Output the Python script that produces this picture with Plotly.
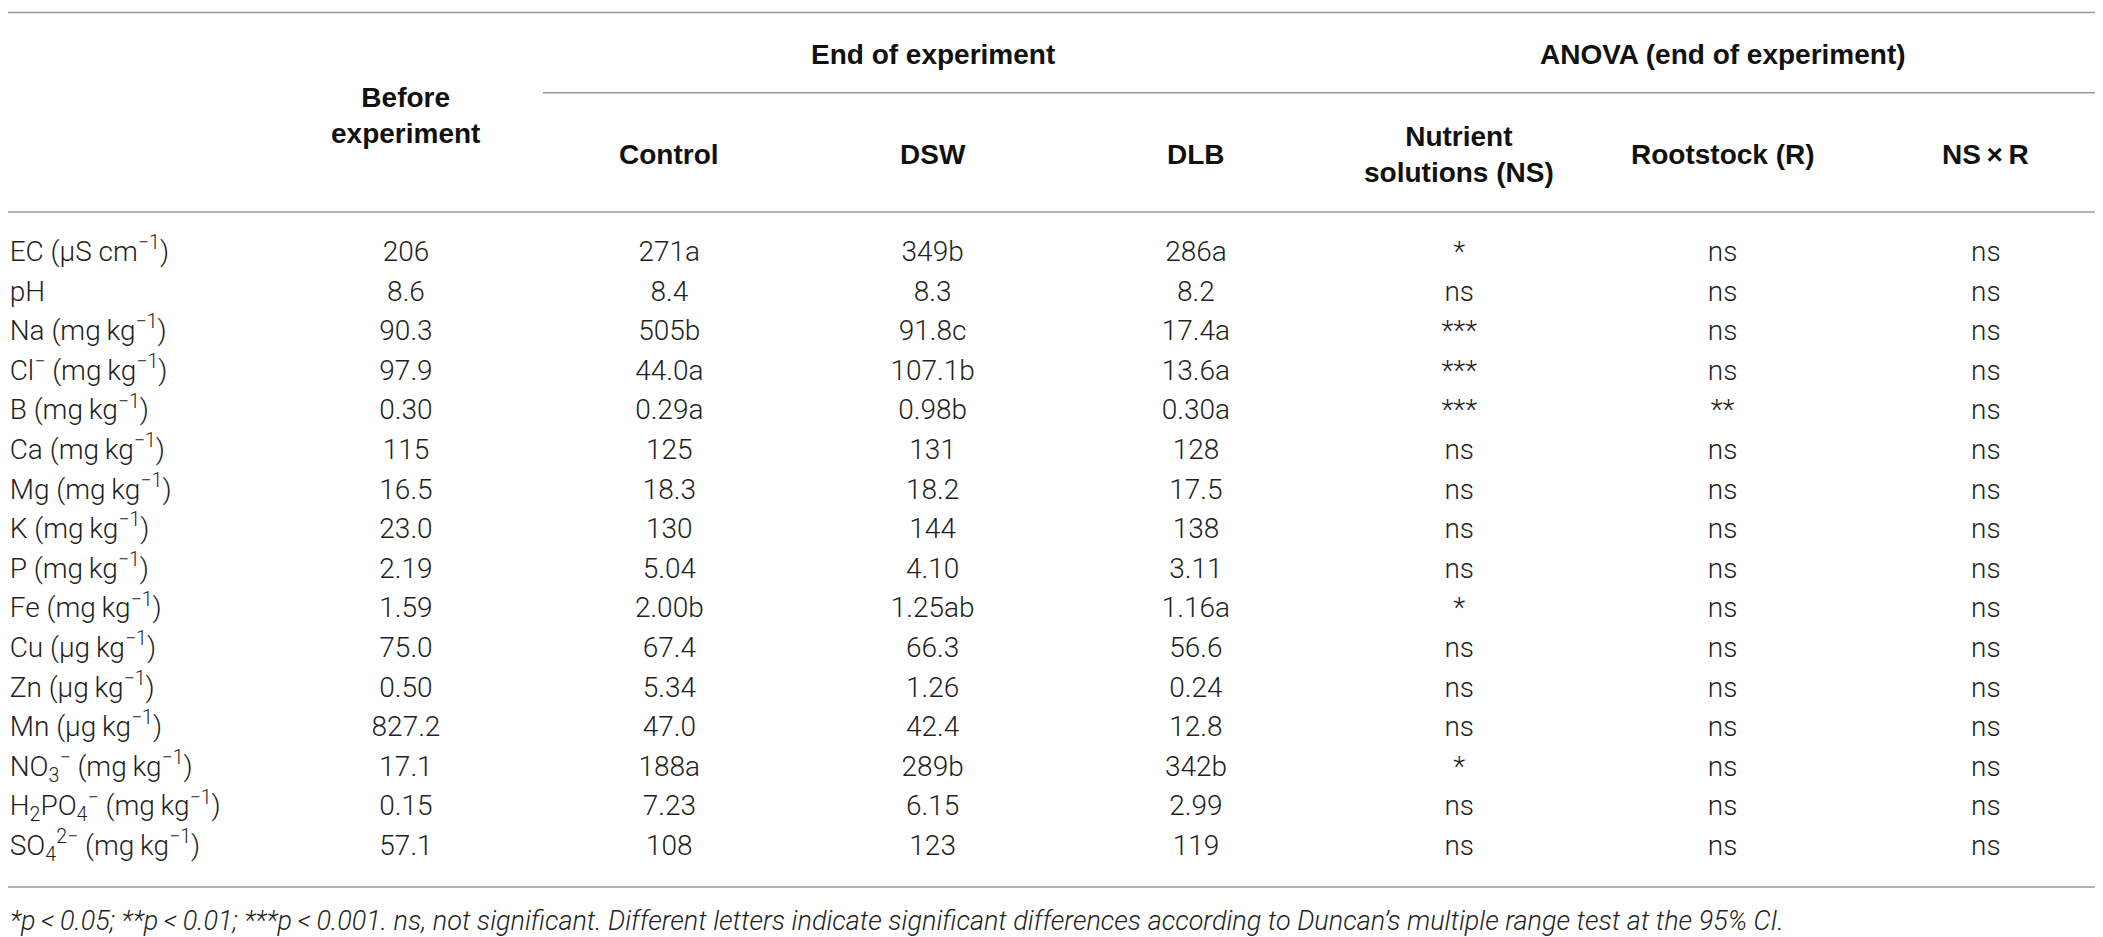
import plotly.graph_objects as go

# Table values
params = [
    "EC (µS cm<sup>−1</sup>)",
    "pH",
    "Na (mg\u2009kg<sup>−1</sup>)",
    "Cl<sup>−</sup> (mg\u2009kg<sup>−1</sup>)",
    "B (mg\u2009kg<sup>−1</sup>)",
    "Ca (mg\u2009kg<sup>−1</sup>)",
    "Mg (mg\u2009kg<sup>−1</sup>)",
    "K (mg\u2009kg<sup>−1</sup>)",
    "P (mg\u2009kg<sup>−1</sup>)",
    "Fe (mg\u2009kg<sup>−1</sup>)",
    "Cu (µg\u2009kg<sup>−1</sup>)",
    "Zn (µg\u2009kg<sup>−1</sup>)",
    "Mn (µg\u2009kg<sup>−1</sup>)",
    "NO<sub>3</sub><sup>−</sup> (mg\u2009kg<sup>−1</sup>)",
    "H<sub>2</sub>PO<sub>4</sub><sup>−</sup> (mg\u2009kg<sup>−1</sup>)",
    "SO<sub>4</sub><sup>2−</sup> (mg\u2009kg<sup>−1</sup>)",
]
before = ["206", "8.6", "90.3", "97.9", "0.30", "115", "16.5", "23.0",
          "2.19", "1.59", "75.0", "0.50", "827.2", "17.1", "0.15", "57.1"]
control = ["271a", "8.4", "505b", "44.0a", "0.29a", "125", "18.3", "130",
           "5.04", "2.00b", "67.4", "5.34", "47.0", "188a", "7.23", "108"]
dsw = ["349b", "8.3", "91.8c", "107.1b", "0.98b", "131", "18.2", "144",
       "4.10", "1.25ab", "66.3", "1.26", "42.4", "289b", "6.15", "123"]
dlb = ["286a", "8.2", "17.4a", "13.6a", "0.30a", "128", "17.5", "138",
       "3.11", "1.16a", "56.6", "0.24", "12.8", "342b", "2.99", "119"]
sig_ns = ["*", "ns", "***", "***", "***", "ns", "ns", "ns",
          "ns", "*", "ns", "ns", "ns", "*", "ns", "ns"]
sig_r = ["ns", "ns", "ns", "ns", "**", "ns", "ns", "ns",
         "ns", "ns", "ns", "ns", "ns", "ns", "ns", "ns"]
sig_nsr = ["ns"] * 16

col_headers = ["Control", "DSW", "DLB", "Nutrient<br>solutions (NS)",
               "Rootstock (R)", "NS\u2009×\u2009R"]
group_headers = ["End of experiment", "ANOVA (end of experiment)"]
footnote = ("<i>*p\u2009<\u20090.05; **p\u2009<\u20090.01; ***p\u2009<\u20090.001. "
            "ns, not significant. Different letters indicate significant differences "
            "according to Duncan\u2019s multiple range test at the 95% CI.</i>")

body_font = dict(family="Roboto", size=28, color="#231f20", weight=300)
head_font = dict(family="Liberation Sans, Arial", size=28, color="#111111", weight="bold")
rule = dict(color="#9a9a9a", width=1.5)

rows = list(range(len(params)))
columns = [before, control, dsw, dlb, sig_ns, sig_r, sig_nsr]

fig = go.Figure()

# parameter names, left aligned
fig.add_trace(go.Scatter(x=[-0.505] * len(params), y=rows, mode="text",
                         text=params, textposition="middle right",
                         textfont=body_font, cliponaxis=False, hoverinfo="skip"))

# value columns
for k, col in enumerate(columns, start=1):
    fig.add_trace(go.Scatter(x=[k] * len(col), y=rows, mode="text",
                             text=col, textposition="middle center",
                             textfont=body_font, cliponaxis=False, hoverinfo="skip"))

# headers
fig.add_annotation(x=1, y=-3.5, text="Before<br>experiment", showarrow=False,
                   font=head_font)
for k, h in enumerate(col_headers, start=2):
    fig.add_annotation(x=k, y=-2.5, text=h, showarrow=False, font=head_font)
fig.add_annotation(x=3, y=-5.03, text=group_headers[0], showarrow=False, font=head_font)
fig.add_annotation(x=6, y=-5.03, text=group_headers[1], showarrow=False, font=head_font)

fig.add_annotation(xref="paper", x=0, xanchor="left", y=16.84, text=footnote,
                   showarrow=False, font=dict(family="Roboto", size=27,
                                              color="#231f20", weight=300))

# horizontal rules
fig.add_shape(type="line", xref="paper", x0=0, x1=1, y0=-6.1, y1=-6.1, line=rule)
fig.add_shape(type="line", xref="x", x0=1.52, x1=7.6, y0=-4.07, y1=-4.07, line=rule)
fig.add_shape(type="line", xref="paper", x0=0, x1=1, y0=-1.06, y1=-1.06, line=rule)
fig.add_shape(type="line", xref="paper", x0=0, x1=1, y0=15.985, y1=15.985, line=rule)

fig.update_xaxes(range=[-0.5114, 7.475], visible=False, fixedrange=True)
fig.update_yaxes(range=[17.45, -6.212], visible=False, fixedrange=True)
fig.update_layout(width=2103, height=937, margin=dict(l=0, r=0, t=0, b=0),
                  plot_bgcolor="white", paper_bgcolor="white", showlegend=False)

fig.write_html("out.html")
